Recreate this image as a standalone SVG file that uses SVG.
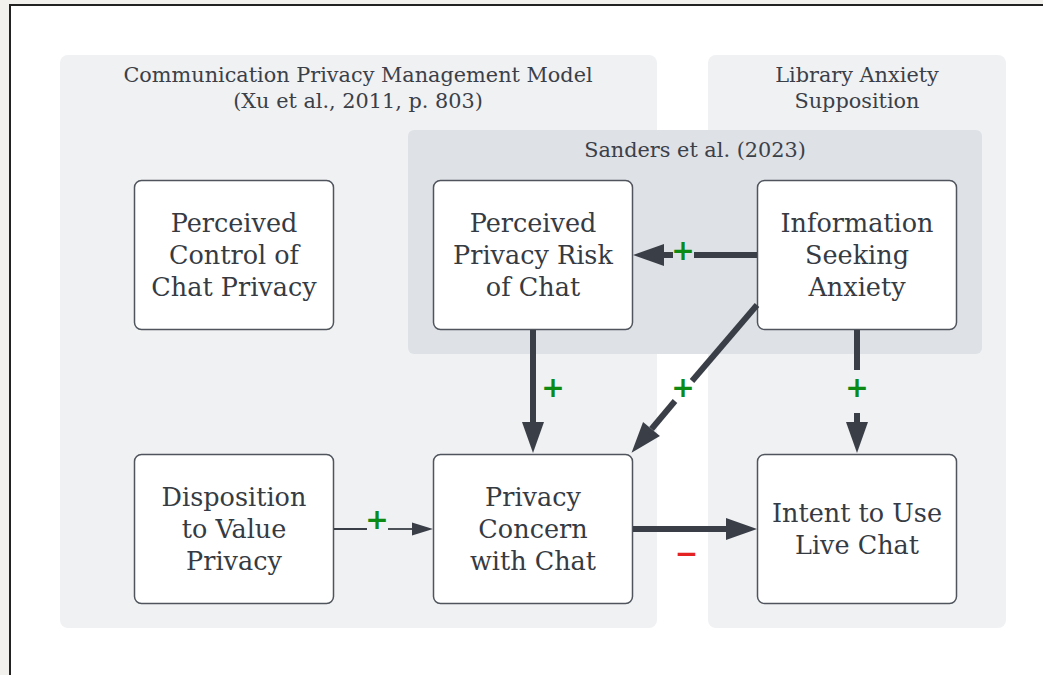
<svg xmlns="http://www.w3.org/2000/svg" width="1043" height="675" viewBox="0 0 1043 675">
  <style>
    .title { font-family: "DejaVu Serif", "Liberation Serif", serif; font-size: 20.8px; fill: #3b4048; text-anchor: middle; }
    .node rect { fill: #ffffff; stroke: #50555d; stroke-width: 1.5; }
    .node text { font-family: "DejaVu Serif", "Liberation Serif", serif; font-size: 25.5px; fill: #363b43; text-anchor: middle; }
    .edge { stroke: #3a3f47; stroke-width: 6; fill: none; }
    .edge-thin { stroke: #3a3f47; stroke-width: 1.8; fill: none; }
    .plus { font-family: "DejaVu Sans", sans-serif; font-weight: bold; font-size: 28px; fill: #0b8a16; text-anchor: middle; }
    .minus { font-family: "DejaVu Sans", sans-serif; font-weight: bold; font-size: 28px; fill: #e52222; text-anchor: middle; }
  </style>
  <defs>
    <marker id="head" markerUnits="userSpaceOnUse" markerWidth="34" markerHeight="24" refX="0" refY="11" orient="auto" overflow="visible">
      <path d="M0,0 L31,11 L0,22 Z" fill="#3a3f47"/>
    </marker>
    <marker id="head-small" markerUnits="userSpaceOnUse" markerWidth="22" markerHeight="14" refX="0" refY="6.5" orient="auto" overflow="visible">
      <path d="M0,0 L21,6.5 L0,13 Z" fill="#3a3f47"/>
    </marker>
  </defs>

  <!-- page backdrop and frame -->
  <rect x="0" y="0" width="1043" height="675" fill="#f2f1ed"/>
  <rect x="10" y="5" width="1100" height="700" fill="#ffffff" stroke="#222222" stroke-width="2"/>

  <!-- containers -->
  <g id="group-cpm">
    <rect x="60" y="55" width="597" height="573" rx="8" fill="#f0f1f3"/>
    <text class="title" x="358" y="82">Communication Privacy Management Model</text>
    <text class="title" x="358" y="108">(Xu et al., 2011, p. 803)</text>
  </g>
  <g id="group-library">
    <rect x="708" y="55" width="298" height="573" rx="8" fill="#f0f1f3"/>
    <text class="title" x="857" y="82">Library Anxiety</text>
    <text class="title" x="857" y="108">Supposition</text>
  </g>
  <g id="group-sanders">
    <rect x="408" y="130" width="574" height="224" rx="6" fill="#dee1e6"/>
    <text class="title" x="695" y="157">Sanders et al. (2023)</text>
  </g>

  <!-- nodes -->
  <g id="node-control" class="node">
    <rect x="134.5" y="180.5" width="199" height="149" rx="7"/>
    <text x="234" y="232">Perceived</text>
    <text x="234" y="264">Control of</text>
    <text x="234" y="296">Chat Privacy</text>
  </g>
  <g id="node-risk" class="node">
    <rect x="433.5" y="180.5" width="199" height="149" rx="7"/>
    <text x="533" y="232">Perceived</text>
    <text x="533" y="264">Privacy Risk</text>
    <text x="533" y="296">of Chat</text>
  </g>
  <g id="node-anxiety" class="node">
    <rect x="757.5" y="180.5" width="199" height="149" rx="7"/>
    <text x="857" y="232">Information</text>
    <text x="857" y="264">Seeking</text>
    <text x="857" y="296">Anxiety</text>
  </g>
  <g id="node-disposition" class="node">
    <rect x="134.5" y="454.5" width="199" height="149" rx="7"/>
    <text x="234" y="506">Disposition</text>
    <text x="234" y="538">to Value</text>
    <text x="234" y="570">Privacy</text>
  </g>
  <g id="node-concern" class="node">
    <rect x="433.5" y="454.5" width="199" height="149" rx="7"/>
    <text x="533" y="506">Privacy</text>
    <text x="533" y="538">Concern</text>
    <text x="533" y="570">with Chat</text>
  </g>
  <g id="node-intent" class="node">
    <rect x="757.5" y="454.5" width="199" height="149" rx="7"/>
    <text x="857" y="522">Intent to Use</text>
    <text x="857" y="554">Live Chat</text>
  </g>

  <!-- connectors -->
  <g id="connectors">
    <!-- anxiety -> privacy risk -->
    <line class="edge" x1="757" y1="255" x2="694" y2="255"/>
    <line class="edge" x1="673" y1="255" x2="664" y2="255" marker-end="url(#head)"/>
    <text class="plus" x="683" y="260">+</text>

    <!-- privacy risk -> concern -->
    <line class="edge" x1="533" y1="330" x2="533" y2="422" marker-end="url(#head)"/>
    <text class="plus" x="553" y="397">+</text>

    <!-- anxiety -> concern (diagonal) -->
    <line class="edge" x1="757" y1="305" x2="692" y2="381"/>
    <line class="edge" x1="675" y1="401" x2="651.5" y2="429" marker-end="url(#head)"/>
    <text class="plus" x="683" y="397">+</text>

    <!-- anxiety -> intent -->
    <line class="edge" x1="857" y1="330" x2="857" y2="370"/>
    <line class="edge" x1="857" y1="413" x2="857" y2="422" marker-end="url(#head)"/>
    <text class="plus" x="857" y="397">+</text>

    <!-- disposition -> concern -->
    <line class="edge-thin" x1="334" y1="529" x2="367" y2="529"/>
    <line class="edge-thin" x1="388" y1="529" x2="412" y2="529" marker-end="url(#head-small)"/>
    <text class="plus" x="377" y="529">+</text>

    <!-- concern -> intent -->
    <line class="edge" x1="633" y1="529" x2="726" y2="529" marker-end="url(#head)"/>
    <text class="minus" x="686.5" y="562.5">−</text>
  </g>
</svg>
